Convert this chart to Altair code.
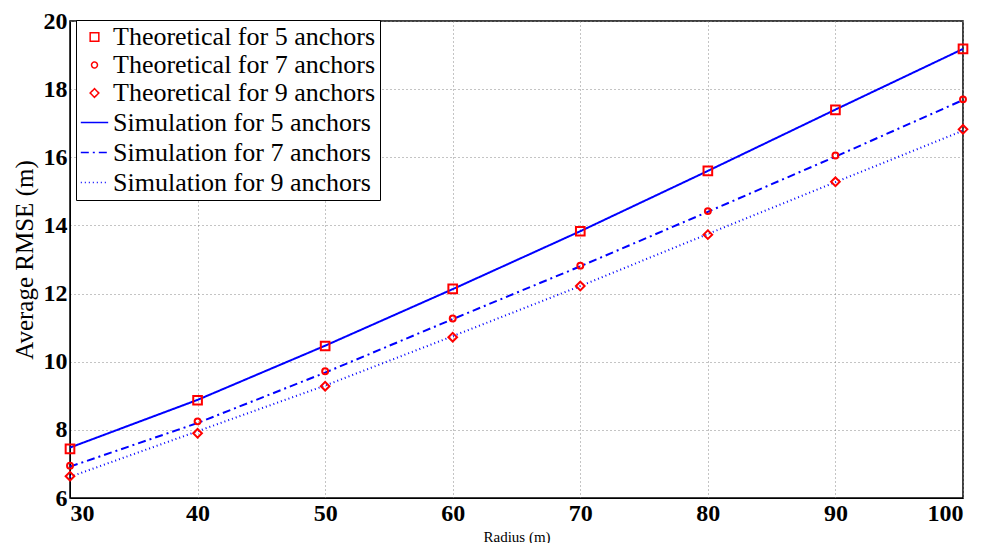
import altair as alt
import pandas as pd

radius = [30, 40, 50, 60, 70, 80, 90, 100]
theo5 = [7.44, 8.87, 10.46, 12.14, 13.83, 15.60, 17.39, 19.18]
theo7 = [6.95, 8.25, 9.72, 11.27, 12.82, 14.42, 16.05, 17.70]
theo9 = [6.64, 7.90, 9.28, 10.72, 12.22, 13.73, 15.28, 16.82]
sim5 = [7.48, 8.88, 10.47, 12.13, 13.83, 15.60, 17.40, 19.18]
sim7 = [6.92, 8.20, 9.68, 11.25, 12.80, 14.40, 16.02, 17.68]
sim9 = [6.62, 7.96, 9.30, 10.75, 12.22, 13.75, 15.27, 16.78]

labels = [
    "Theoretical for 5 anchors",
    "Theoretical for 7 anchors",
    "Theoretical for 9 anchors",
    "Simulation for 5 anchors",
    "Simulation for 7 anchors",
    "Simulation for 9 anchors",
]
series = [theo5, theo7, theo9, sim5, sim7, sim9]

rows = []
for lab, vals in zip(labels, series):
    for r, v in zip(radius, vals):
        rows.append({"label": lab, "radius": r, "value": v,
                     "kind": "theo" if lab.startswith("Theo") else "sim"})
df = pd.DataFrame(rows)

RED = "#ff0000"
BLUE = "#0000ff"
FONT = "Liberation Serif"

color = alt.Color(
    "label:N",
    scale=alt.Scale(domain=labels, range=[RED, RED, RED, BLUE, BLUE, BLUE]),
    legend=alt.Legend(title=None, orient="none", legendX=6, legendY=-1),
)
xenc = alt.X("radius:Q", scale=alt.Scale(domain=[30, 100], nice=False),
             axis=alt.Axis(values=radius, title="Radius (m)", titleFontSize=15,
                           titleFontWeight="normal", titlePadding=4,
                           labelFontWeight="bold"))
yenc = alt.Y("value:Q", scale=alt.Scale(domain=[6, 20], nice=False),
             axis=alt.Axis(values=[6, 8, 10, 12, 14, 16, 18, 20],
                           title="Average RMSE (m)", titleFontSize=25,
                           titleFontWeight="normal", titlePadding=6,
                           labelFontWeight="bold"))

points = alt.Chart(df).transform_filter(alt.datum.kind == "theo").mark_point(
    filled=False, strokeWidth=2, opacity=1
).encode(
    x=xenc, y=yenc, color=color,
    shape=alt.Shape("label:N", scale=alt.Scale(
        domain=labels, range=["square", "circle", "diamond", "stroke", "stroke", "stroke"])),
    size=alt.Size("label:N", scale=alt.Scale(
        type="ordinal", domain=labels, range=[75, 35, 75, 750, 750, 750])),
)

lines = alt.Chart(df).transform_filter(alt.datum.kind == "sim").mark_line(
    strokeWidth=2
).encode(
    x=xenc, y=yenc, color=color,
    strokeDash=alt.StrokeDash("label:N", scale=alt.Scale(
        domain=labels, range=[[1, 0], [1, 0], [1, 0], [1, 0], [8, 4, 2, 4], [1, 3]])),
)

chart = alt.layer(lines, points).properties(
    width=893, height=477,
    autosize=alt.AutoSizeParams(type="none"),
    padding={"left": 62, "top": 13, "right": 10, "bottom": 45},
).configure_view(stroke="black", strokeWidth=1.5).configure_axis(
    labelFont=FONT, titleFont=FONT, labelFontSize=24, labelFontWeight="bold",
    labelColor="black", titleColor="black", domainColor="black",
    ticks=False, labelPadding=3, gridColor="#888888", gridDash=[1, 3],
    gridWidth=1,
).configure_legend(
    labelFont=FONT, labelFontSize=26, labelColor="black", fillColor="white",
    strokeColor="black", padding=4, rowPadding=2, labelLimit=400, labelOffset=4,
)

chart.save("out.html", embed_options={"renderer": "svg", "actions": False})
